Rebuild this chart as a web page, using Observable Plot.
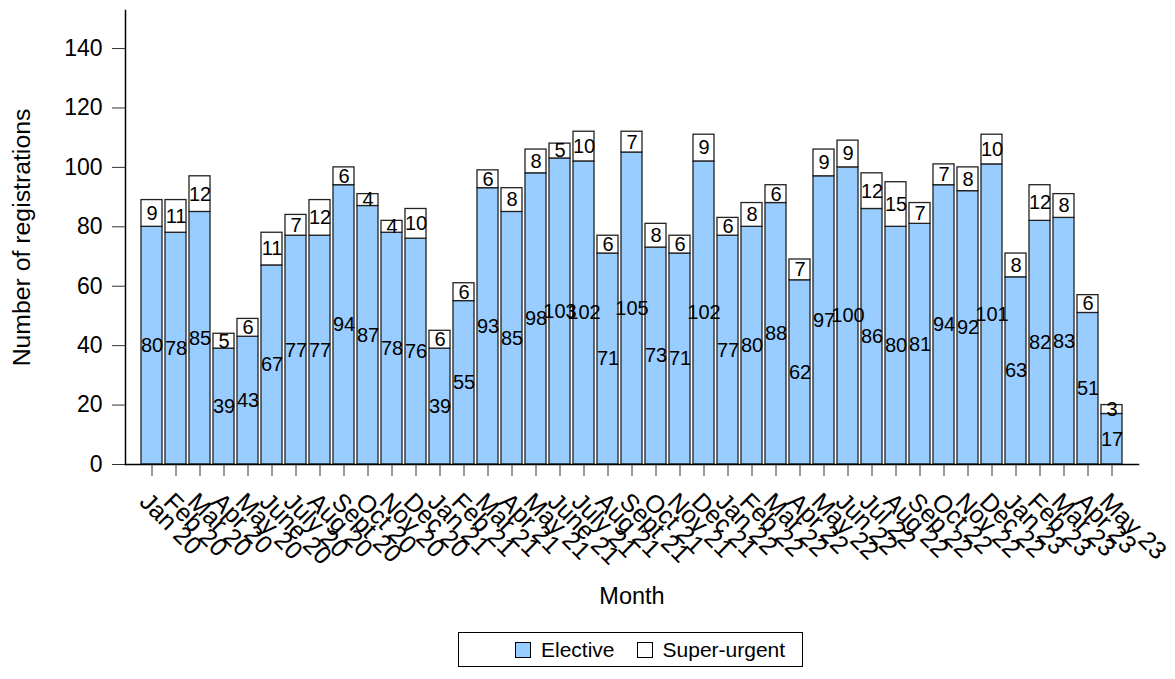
<!DOCTYPE html>
<html>
<head>
<meta charset="utf-8">
<script src="https://cdn.jsdelivr.net/npm/d3@7"></script>
<script src="https://cdn.jsdelivr.net/npm/@observablehq/plot@0.6"></script>
<style>
  html, body { margin: 0; padding: 0; background: white; }
  body { font-family: "Liberation Sans", Arial, sans-serif; width: 1175px; height: 679px; overflow: hidden; }
  #chart svg { display: block; }
  .legend { position: absolute; left: 458px; top: 632px; width: 343px; height: 33px; border: 1.5px solid #000;
    box-sizing: content-box; display: flex; align-items: center; font-size: 21px; color: #000; }
  .sw { width: 14px; height: 14px; border: 1.5px solid #000; display: inline-block; margin-right: 10px; }
  .item { display: flex; align-items: center; }
</style>
</head>
<body>
<div id="chart"></div>
<div class="legend">
  <div class="item" style="margin-left:56px"><span class="sw" style="background:#99ccff"></span>Elective</div>
  <div class="item" style="margin-left:22px"><span class="sw" style="background:#fff"></span>Super-urgent</div>
</div>
<script>
const months = ["Jan 20","Feb 20","Mar 20","Apr 20","May 20","June 20","July 20","Aug 20","Sept 20","Oct 20","Nov 20","Dec 20",
  "Jan 21","Feb 21","Mar 21","Apr 21","May 21","June 21","July 21","Aug 21","Sept 21","Oct 21","Nov 21","Dec 21",
  "Jan 22","Feb 22","Mar 22","Apr 22","May 22","Jun 22","Jul 22","Aug 22","Sep 22","Oct 22","Nov 22","Dec 22",
  "Jan 23","Feb 23","Mar 23","Apr 23","May 23"];
const elective = [80,78,85,39,43,67,77,77,94,87,78,76,39,55,93,85,98,103,102,71,105,73,71,102,77,80,88,62,97,100,86,80,81,94,92,101,63,82,83,51,17];
const superUrgent = [9,11,12,5,6,11,7,12,6,4,4,10,6,6,6,8,8,5,10,6,7,8,6,9,6,8,6,7,9,9,12,15,7,7,8,10,8,12,8,6,3];
const yTicks = [0,20,40,60,80,100,120,140];
const types = ["Elective","Super-urgent"];

const data = months.flatMap((m, i) => [
  {month: m, type: types[0], value: elective[i], base: 0},
  {month: m, type: types[1], value: superUrgent[i], base: elective[i]}
]).map(d => ({...d, mid: d.base + d.value / 2}));

const chart = Plot.plot({
  width: 1175,
  height: 628,
  marginLeft: 125,
  marginRight: 37,
  marginTop: 10,
  marginBottom: 164,
  style: {fontFamily: "'Liberation Sans', Arial, sans-serif", background: "white", color: "#000"},
  x: {domain: months, paddingInner: 0.11, paddingOuter: 0.48, label: null},
  y: {domain: [0, 152.8], label: null},
  color: {domain: types, range: ["#99ccff", "#ffffff"]},
  marks: [
    Plot.barY(data, {x: "month", y1: "base", y2: d => d.base + d.value, fill: "type", stroke: "#222", strokeWidth: 1.3}),
    Plot.text(data, {x: "month", y: "mid", text: "value", fontSize: 20, fill: "#000"}),
    Plot.frame({anchor: "left", stroke: "#000", strokeWidth: 1.5}),
    Plot.frame({anchor: "bottom", stroke: "#000", strokeWidth: 1.5}),
    Plot.axisY({ticks: yTicks, tickSize: 13, tickPadding: 10, fontSize: 23, label: null, stroke: "#333"}),
    Plot.axisX({tickSize: 12, tickFormat: () => "", label: null, stroke: "#333"}),
    Plot.axisX({tickSize: 0, tickPadding: 18, tickRotate: 45, fontSize: 25, dx: -8, dy: 15, label: null}),
    Plot.text(["Number of registrations"], {frameAnchor: "left", textAnchor: "middle", dx: -103, rotate: -90, fontSize: 24.8, fill: "#000"}),
    Plot.text(["Month"], {frameAnchor: "bottom", dy: 139, fontSize: 23.5, fill: "#000"})
  ]
});
document.getElementById("chart").appendChild(chart);
</script>
</body>
</html>
